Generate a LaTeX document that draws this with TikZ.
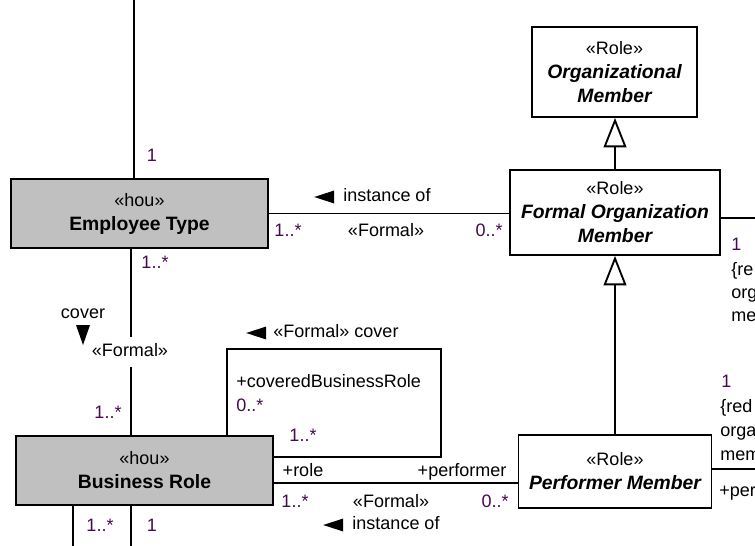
\documentclass[tikz,border=0pt]{standalone}
\usepackage{fontspec}
\setmainfont{Liberation Sans}
\usetikzlibrary{arrows.meta,calc}

\definecolor{multcol}{RGB}{70,10,80}
\definecolor{houfill}{RGB}{192,192,192}

% filled direction mark, apex given
\newcommand{\readarrow}[1]{\fill #1 -- ++(20,-6.5) -- ++(0,13) -- cycle;}
% class name line
\newcommand{\clsname}[1]{{\fontsize{14.5}{18}\selectfont\bfseries #1}}

\begin{document}
\begin{tikzpicture}[
    x=0.75pt, y=-0.75pt,
    every node/.style={font=\fontsize{13.5}{18}\selectfont},
    classbox/.style={draw, rectangle, fill=white, line width=1.4pt, align=center, inner sep=0pt},
    houbox/.style={classbox, fill=houfill},
    lbl/.style={inner sep=0pt, text height=9.5pt, text depth=2.5pt},
    mult/.style={lbl, text=multcol},
    assoc/.style={line width=1.4pt},
    generalize/.style={line width=1.4pt, -{Triangle[open, fill=white, length=22pt, width=17pt, line width=1.4pt]}}
]
    \useasboundingbox (0,0) rectangle (755,545);

    % --------------------------------------------------------
    % 1. DEFINE CLASSES
    % --------------------------------------------------------

    % hou classes
    \node (employee) [houbox, minimum width=192.75pt, minimum height=51.75pt] at (139.5,213.5)
        {«hou»\\\clsname{Employee Type}};
    \node (busrole) [houbox, minimum width=192.75pt, minimum height=51.75pt] at (144.5,470.5)
        {«hou»\\\clsname{Business Role}};

    % Role classes
    \node (orgmember) [classbox, minimum width=123.75pt, minimum height=67.5pt] at (614.5,72)
        {«Role»\\\clsname{\itshape Organizational}\\\clsname{\itshape Member}};
    \node (formalmember) [classbox, minimum width=157.5pt, minimum height=63.75pt] at (615,212.5)
        {«Role»\\\clsname{\itshape Formal Organization}\\\clsname{\itshape Member}};
    \node (performer) [classbox, minimum width=144.75pt, minimum height=54.75pt] at (615,471.5)
        {«Role»\\\clsname{\itshape Performer Member}};

    % --------------------------------------------------------
    % 2. DEFINE RELATIONSHIPS
    % --------------------------------------------------------

    \coordinate (topend) at (134,0);
    \coordinate (edgefom) at (760,218);
    \coordinate (edgeperf) at (760,469);
    \coordinate (botA) at (73,550);
    \coordinate (botB) at (131,550);
    \coordinate (loopcorner) at (441,349);
    \coordinate (brassoc) at ($(busrole.east)+(0,12.5)$);

    % Employee Type up, and cover down to Business Role
    \draw [assoc] (topend) -- ($(employee.north)+(-5.5,0)$);
    \draw [assoc] ($(employee.south)+(-8.5,0)$) -- ($(busrole.north)+(-13.5,0)$);

    % instance of: Employee Type -- Formal Organization Member
    \draw [assoc] (employee.east) -- (employee.east -| formalmember.west);

    % generalizations
    \draw [generalize] (formalmember.north) -- (formalmember.north |- orgmember.south);
    \draw [generalize] (performer.north) -- (performer.north |- formalmember.south);

    % self association on Business Role
    \draw [assoc] ($(busrole.north)+(82.5,0)$) |- (loopcorner) |- ($(busrole.east)+(0,-13.5)$);

    % Business Role -- Performer Member
    \draw [assoc] (brassoc) -- (brassoc -| performer.west);

    % ends leaving the picture
    \draw [assoc] (formalmember.east |- edgefom) -- (edgefom);
    \draw [assoc] (performer.east |- edgeperf) -- (edgeperf);
    \draw [assoc] (busrole.south -| botA) -- (botA);
    \draw [assoc] (busrole.south -| botB) -- (botB);

    % --------------------------------------------------------
    % 3. LABELS
    % --------------------------------------------------------

    % left column
    \node (mEmpTop) [mult] at (152,157) {1};
    \node (mEmpBot) [mult] at (155,264) {1..*};
    \node (coverLbl) [lbl] at (83,314) {cover};
    \fill (83,345) -- ++(-7,-20) -- ++(14,0) -- cycle;
    \node (formalCov) [lbl, fill=white, inner ysep=5pt] at (130,352) {«Formal»};
    \node (mBrTop) [mult] at (108,414) {1..*};
    \node (mBrBotA) [mult] at (100,527) {1..*};
    \node (mBrBotB) [mult] at (152,527) {1};

    % instance of (top)
    \node (instTop) [lbl] at (387,197) {instance of};
    \readarrow{($(instTop.west)+(-29,0)$)}
    \node (mInstL) [mult] at (288,232) {1..*};
    \node (formalInst) [lbl] at (386,232) {«Formal»};
    \node (mInstR) [mult] at (489,232) {0..*};

    % self association
    \node (coverSelf) [lbl] at (336,333) {«Formal» cover};
    \readarrow{($(coverSelf.west)+(-27,0)$)}
    \node (coveredRole) [lbl, anchor=west] at (236,383) {+coveredBusinessRole};
    \node (mCovered) [mult, anchor=west] at (236,407) {0..*};
    \node (mCovering) [mult] at (303,437) {1..*};

    % instance of (bottom)
    \node (roleEnd) [lbl] at (303,472) {+role};
    \node (perfEnd) [lbl] at (462,472) {+performer};
    \node (mRole) [mult] at (295,503) {1..*};
    \node (formalPerf) [lbl] at (391,503) {«Formal»};
    \node (mPerf) [mult] at (495,503) {0..*};
    \node (instBot) [lbl] at (396,525) {instance of};
    \readarrow{($(instBot.west)+(-29,0)$)}

    % right edge, cut off
    \node (mFomR) [mult, anchor=west] at (731,246) {1};
    \node (fomRedA) [lbl, anchor=west] at (731,271) {\{re};
    \node (fomRedB) [lbl, anchor=west] at (731,294) {org};
    \node (fomRedC) [lbl, anchor=west] at (731,317) {me};
    \node (mPerfR) [mult, anchor=west] at (721,383) {1};
    \node (perfRedA) [lbl, anchor=west] at (720,408) {\{red};
    \node (perfRedB) [lbl, anchor=west] at (720,432) {orga};
    \node (perfRedC) [lbl, anchor=west] at (720,456) {mem};
    \node (perfEndR) [lbl, anchor=west] at (719,492) {+per};

\end{tikzpicture}
\end{document}
